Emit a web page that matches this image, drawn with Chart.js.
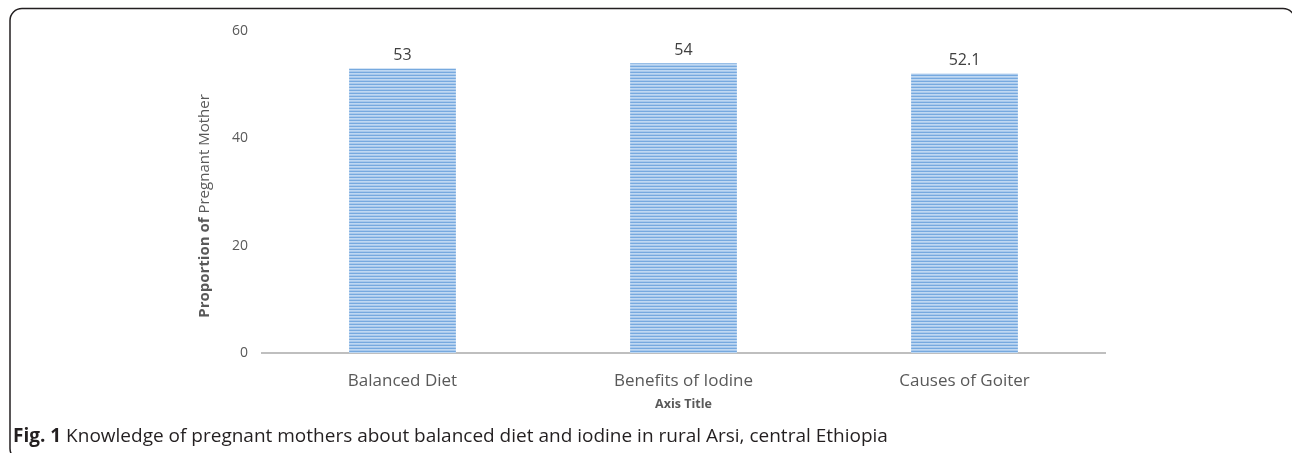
<!DOCTYPE html>
<html>
<head>
<meta charset="utf-8">
<script src="https://cdn.jsdelivr.net/npm/chart.js@4/dist/chart.umd.min.js"></script>
<style>
	html, body { margin: 0; padding: 0; background: #fff; }
	#wrap { position: relative; width: 1292px; height: 453px; }
	canvas { display: block; }
</style>
</head>
<body>
<div id="wrap"><canvas id="chart" width="1292" height="453"></canvas></div>
<script>
const categories = ['Balanced Diet', 'Benefits of Iodine', 'Causes of Goiter'];
const proportions = [53, 54, 52.1];
const valueLabels = ['53', '54', '52.1'];
const yTicks = [0, 20, 40, 60];
const yTitleBold = 'Proportion of ';
const yTitleRest = 'Pregnant Mother';
const xTitle = 'Axis Title';
const captionBold = 'Fig. 1';
const captionRest = ' Knowledge of pregnant mothers about balanced diet and iodine in rural Arsi, central Ethiopia';

const FONT = '"Open Sans", "Noto Sans", sans-serif';

// striped fill like the original export
function makeStripes(){
	let c = document.createElement('canvas');
	c.width = 4; c.height = 3;
	let g = c.getContext('2d');
	g.fillStyle = '#a9c9ec'; g.fillRect(0, 0, 4, 3);
	g.fillStyle = '#76a9df'; g.fillRect(0, 0, 4, 1);
	g.fillStyle = '#bfd8f2'; g.fillRect(0, 1, 4, 1);
	return g.createPattern(c, 'repeat');
}

const extras = {
	id: 'extras',
	beforeDraw(chart){
		// frame, right side runs off the page
		let ctx = chart.ctx;
		ctx.save();
		ctx.strokeStyle = '#231f20';
		ctx.lineWidth = 1.5;
		ctx.beginPath();
		ctx.roundRect(10, 8.5, 1285, 452, 12);
		ctx.stroke();
		ctx.restore();
	},
	afterDraw(chart){
		let ctx = chart.ctx;
		let area = chart.chartArea;
		ctx.save();

		// value labels
		ctx.fillStyle = '#404040';
		ctx.font = '16px ' + FONT;
		ctx.textAlign = 'center';
		ctx.textBaseline = 'bottom';
		chart.getDatasetMeta(0).data.forEach((bar, i)=>{
			ctx.fillText(valueLabels[i], bar.x, bar.y - 5);
		});

		// x title
		ctx.fillStyle = '#595959';
		ctx.font = 'bold 12.5px ' + FONT;
		ctx.textBaseline = 'middle';
		ctx.fillText(xTitle, (area.left + area.right) / 2, 404);

		// y title, mixed weight
		ctx.translate(205, 206);
		ctx.rotate(-Math.PI / 2);
		ctx.font = 'bold 15px ' + FONT;
		let w1 = ctx.measureText(yTitleBold).width;
		ctx.font = '15px ' + FONT;
		let w2 = ctx.measureText(yTitleRest).width;
		ctx.textAlign = 'left';
		ctx.font = 'bold 15px ' + FONT;
		ctx.fillText(yTitleBold, -(w1 + w2) / 2, 0);
		ctx.font = '15px ' + FONT;
		ctx.fillText(yTitleRest, -(w1 + w2) / 2 + w1, 0);
		ctx.setTransform(1, 0, 0, 1, 0, 0);

		// caption
		ctx.fillStyle = '#231f20';
		ctx.textBaseline = 'alphabetic';
		ctx.font = 'bold 19px ' + FONT;
		ctx.fillText(captionBold, 13, 442);
		let cw = ctx.measureText(captionBold).width;
		ctx.font = '19px ' + FONT;
		ctx.fillText(captionRest, 13 + cw, 442);
		ctx.restore();
	}
};

new Chart(document.getElementById('chart'), {
	type: 'bar',
	data: {
		labels: categories,
		datasets: [{
			data: proportions,
			backgroundColor: makeStripes(),
			borderWidth: 0,
			barPercentage: 0.38,
			categoryPercentage: 1
		}]
	},
	options: {
		responsive: false,
		animation: false,
		events: [],
		layout: { padding: { left: 0, right: 187, top: 31, bottom: 0 } },
		plugins: { legend: { display: false }, tooltip: { enabled: false } },
		scales: {
			x: {
				grid: { display: false, drawTicks: false },
				border: { display: true, color: '#bfbfbf', width: 2 },
				ticks: { color: '#595959', font: { family: FONT, size: 17 }, padding: 18, maxRotation: 0 },
				afterFit: (scale)=>{ scale.height = 100; }
			},
			y: {
				min: 0,
				max: 60,
				afterBuildTicks: (scale)=>{ scale.ticks = yTicks.map((v)=>({ value: v })); },
				grid: { display: false, drawTicks: false },
				border: { display: false },
				ticks: { color: '#595959', font: { family: FONT, size: 14 }, padding: 14 },
				afterFit: (scale)=>{ scale.width = 262; }
			}
		}
	},
	plugins: [extras]
});
</script>
</body>
</html>
